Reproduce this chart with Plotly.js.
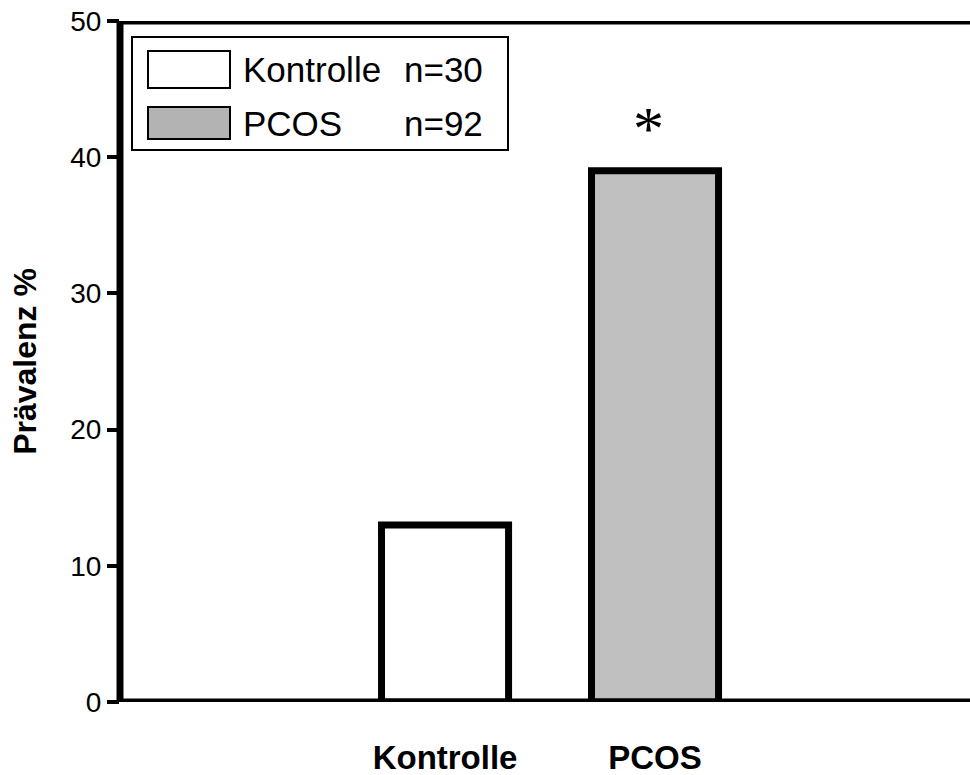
<!DOCTYPE html>
<html>
<head>
<meta charset="utf-8">
<script src="https://cdn.plot.ly/plotly-3.0.1.min.js"></script>
<style>html,body{margin:0;padding:0;background:#fff;}#chart{width:970px;height:775px;}</style>
</head>
<body>
<div id="chart"></div>
<script>
// ---- data ----
const categories = ['Kontrolle', 'PCOS'];
const prevalence = [13, 39];
const barColors = ['#ffffff', '#c0c0c0'];
const legendNames = ['Kontrolle', 'PCOS'];
const legendCounts = ['n=30', 'n=92'];
const legendColors = ['#ffffff', '#b3b3b3'];
const significance = ['', '*'];
const yTicks = [0, 10, 20, 30, 40, 50];

const FONT = 'Arial, "Liberation Sans", Helvetica, sans-serif';

// plot area geometry (pixels)
const L = 120, T = 21, W = 850, H = 681;
const px = x => (x - L) / W;
const py = y => (T + H - y) / H;

const trace = {
  type: 'bar',
  x: categories,
  y: prevalence,
  width: 0.605,
  marker: {color: barColors, line: {color: '#000', width: 7}},
  hoverinfo: 'x+y'
};

const shapes = [
  {type: 'line', xref: 'paper', yref: 'y', x0: 0, x1: 0, y0: -0.26, y1: 50.26, line: {color: '#000', width: 7}},
  {type: 'line', xref: 'paper', yref: 'y', x0: 0, x1: 1, y0: 0, y1: 0, line: {color: '#000', width: 7}},
  {type: 'line', xref: 'paper', yref: 'y', x0: 0, x1: 1, y0: 50, y1: 50, line: {color: '#000', width: 7}},
  {type: 'rect', xref: 'paper', yref: 'paper', x0: px(132), x1: px(508), y0: py(37), y1: py(150),
   line: {color: '#000', width: 2}, fillcolor: 'rgba(0,0,0,0)'}
];
const swatchY = [[51, 88], [107, 139]];
const annotations = [];
legendNames.forEach((n, i) => {
  shapes.push({type: 'rect', xref: 'paper', yref: 'paper', x0: px(148), x1: px(230),
    y0: py(swatchY[i][0]), y1: py(swatchY[i][1]), line: {color: '#000', width: 2}, fillcolor: legendColors[i]});
  const cy = (swatchY[i][0] + swatchY[i][1]) / 2;
  annotations.push({xref: 'paper', yref: 'paper', x: px(241), y: py(cy), xanchor: 'left', yanchor: 'middle',
    text: n, showarrow: false, font: {family: FONT, size: 35, color: '#000'}});
  annotations.push({xref: 'paper', yref: 'paper', x: px(402), y: py(cy), xanchor: 'left', yanchor: 'middle',
    text: legendCounts[i], showarrow: false, font: {family: FONT, size: 35, color: '#000'}});
});
categories.forEach((c, i) => {
  if (significance[i]) {
    annotations.push({xref: 'x', yref: 'y', x: c, y: prevalence[i], yshift: 43, xshift: -7,
      text: significance[i], showarrow: false,
      font: {family: '"Liberation Serif", "Times New Roman", serif', size: 62, color: '#000'}});
  }
});

const layout = {
  width: 970, height: 775,
  margin: {l: L, r: 0, t: T, b: 775 - T - H, pad: 0},
  paper_bgcolor: '#fff', plot_bgcolor: '#fff',
  showlegend: false,
  font: {family: FONT, color: '#000'},
  xaxis: {
    type: 'category', range: [-1.548, 2.5], showline: false, showgrid: false, zeroline: false,
    ticks: '', tickfont: {family: FONT, size: 33, color: '#000', weight: 'bold'},
    ticklabelstandoff: 33, fixedrange: true
  },
  yaxis: {
    range: [0, 50], tickvals: yTicks, showline: false, showgrid: false, zeroline: false,
    ticks: 'outside', ticklen: 12, tickwidth: 4, tickcolor: '#000',
    tickfont: {family: FONT, size: 28, color: '#000'},
    title: {text: 'Prävalenz %', font: {family: FONT, size: 32, color: '#000', weight: 'bold'}, standoff: 24},
    fixedrange: true
  },
  shapes: shapes,
  annotations: annotations
};

Plotly.newPlot('chart', [trace], layout, {displayModeBar: false, staticPlot: true});
</script>
</body>
</html>
